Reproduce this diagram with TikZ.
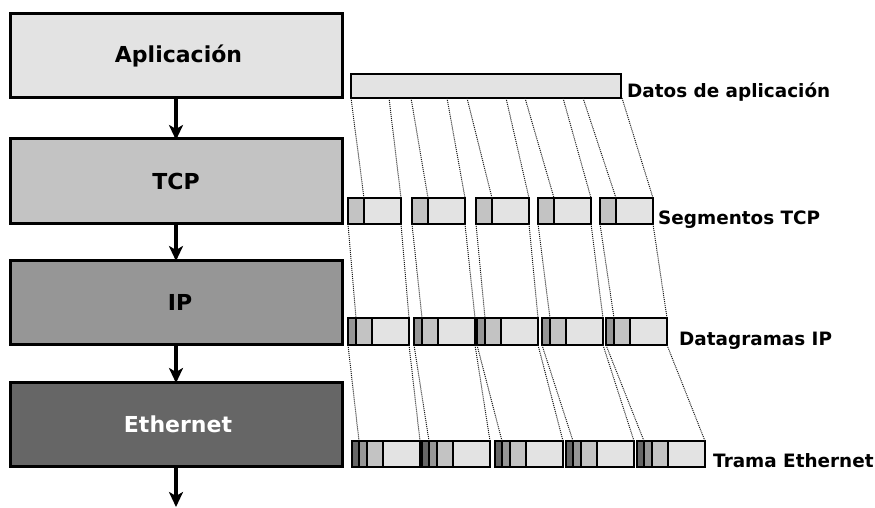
\documentclass[tikz,border=0pt]{standalone}
\usepackage{fontspec}
\setmainfont{DejaVu Sans}
\usetikzlibrary{positioning,arrows.meta}
\definecolor{gris1}{HTML}{E3E3E3}
\definecolor{gris2}{HTML}{C3C3C3}
\definecolor{gris3}{HTML}{969696}
\definecolor{gris4}{HTML}{666666}

\begin{document}
\begin{tikzpicture}[x=1pt, y=-1pt,
        capa/.style={draw, line width=3pt, outer sep=0pt, minimum width=332pt,
          minimum height=84pt, font=\fontsize{22}{26}\selectfont\bfseries},
        trozo/.style={draw, line width=2.8pt, outer sep=0pt, inner sep=0pt,
          minimum height=26pt, anchor=north west},
        baja/.style={-{Stealth[length=15pt,width=14pt,inset=4pt]}, line width=3.2pt, shorten >=-1pt},
        corte/.style={densely dotted, line width=1pt, black!90},
        etiqueta/.style={anchor=base west, inner sep=0pt,
          font=\fontsize{18.4}{22}\selectfont\bfseries}]
  \useasboundingbox (0,0) rectangle (875,508);
  % capas de la pila
  \node[capa, fill=gris1] (app) at (176,56) {\hspace*{5pt}Aplicación};
  \node[capa, fill=gris2, below=41pt of app] (tcp) {TCP};
  \node[capa, fill=gris3, below=37pt of tcp] (ip) {\hspace*{8pt}IP};
  \node[capa, fill=gris4, text=white, below=38pt of ip] (eth) {\hspace*{4pt}Ethernet};
  \coordinate (salida) at (176,506);
  \draw[baja] (app) -- (tcp);
  \draw[baja] (tcp) -- (ip);
  \draw[baja] (ip) -- (eth);
  \draw[baja] (eth) -- (salida);

  % datos
  \node[trozo, fill=gris1, minimum width=270pt, minimum height=24pt] (datos) at (351,74) {};
  % segmentos
  \foreach \x [count=\i] in {348,412,476,538,600} {
    \node[trozo, fill=gris2, minimum width=16pt] (seg-\i-h) at (\x,198) {};
    \node[trozo, fill=gris1, minimum width=37pt, right=0pt of seg-\i-h] (seg-\i-d) {};
  }
  % datagramas
  \foreach \x [count=\i] in {348,414,477,542,606} {
    \node[trozo, fill=gris3, minimum width=8pt, minimum height=27pt] (dg-\i-a) at (\x,318) {};
    \node[trozo, fill=gris2, minimum width=16pt, minimum height=27pt, right=0pt of dg-\i-a] (dg-\i-b) {};
    \node[trozo, fill=gris1, minimum width=37pt, minimum height=27pt, right=0pt of dg-\i-b] (dg-\i-c) {};
  }
  % tramas
  \foreach \x [count=\i] in {352,422,495,566,637} {
    \node[trozo, fill=gris4, minimum width=7pt] (fr-\i-a) at (\x,441) {};
    \node[trozo, fill=gris3, minimum width=8pt, right=0pt of fr-\i-a] (fr-\i-b) {};
    \node[trozo, fill=gris2, minimum width=16pt, right=0pt of fr-\i-b] (fr-\i-c) {};
    \node[trozo, fill=gris1, minimum width=37pt, right=0pt of fr-\i-c] (fr-\i-d) {};
  }

  % lineas de corte
  \foreach \a/\b [count=\i] in {0/38, 60/96, 116/155, 174/212, 232/271} {
    \coordinate (corte-\i-a) at ([xshift=\a pt]datos.south west);
    \coordinate (corte-\i-b) at ([xshift=\b pt]datos.south west);
    \draw[corte] (corte-\i-a) -- (seg-\i-d.north west);
    \draw[corte] (corte-\i-b) -- (seg-\i-d.north east);
    \draw[corte] (seg-\i-h.south west) -- (dg-\i-b.north west);
    \draw[corte] (seg-\i-d.south east) -- (dg-\i-c.north east);
    \draw[corte] (dg-\i-a.south west) -- (fr-\i-b.north west);
    \draw[corte] (dg-\i-c.south east) -- (fr-\i-d.north east);
  }

  % etiquetas
  \node[etiqueta] (l-datos) at ([xshift=6pt]datos.south east) {Datos de aplicación};
  \node[etiqueta] (l-seg) at ([xshift=5pt]seg-5-d.south east) {Segmentos TCP};
  \node[etiqueta] (l-dg) at ([xshift=12pt]dg-5-c.south east) {Datagramas IP};
  \node[etiqueta] (l-fr) at ([xshift=8pt]fr-5-d.south east) {Trama Ethernet};
\end{tikzpicture}
\end{document}
